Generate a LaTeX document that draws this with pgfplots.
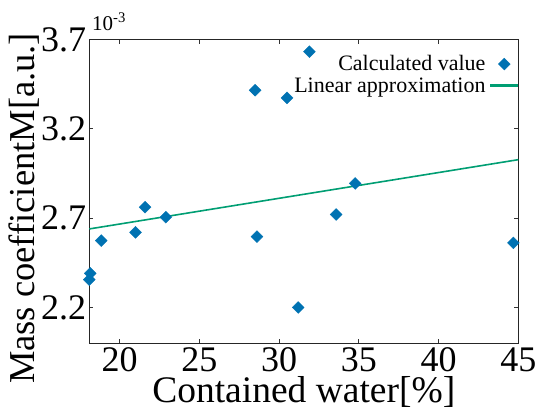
\documentclass[border=0pt]{standalone}
\usepackage{fontspec}
\setmainfont{Liberation Serif}
\usepackage{pgfplots}
\pgfplotsset{compat=1.18}
\definecolor{cvblue}{HTML}{0072B2}
\definecolor{cvgreen}{HTML}{009E73}
\pgfplotsset{
  marklegend/.style={legend image code/.code={%
    \draw[mark repeat=2,mark phase=2,##1] plot coordinates {(0bp,0bp) (13bp,0bp) (26bp,0bp)};}},
  linelegend/.style={legend image code/.code={%
    \fill[cvgreen] (0bp,-0.9bp) rectangle (26bp,0.9bp);}},
}

\begin{document}
\begin{tikzpicture}
\useasboundingbox (-89.3bp,-63.8bp) rectangle (452.7bp,343.2bp);
\begin{axis}[
  scale only axis, width=429bp, height=303.5bp,
  xmin=18.1, xmax=45, ymin=2.0, ymax=3.7,
  xtick={20,25,30,35,40,45}, xticklabels={20,25,30,35,40,45},
  ytick={2.2,2.7,3.2,3.7}, yticklabels={2.2,2.7,3.2,3.7},
  tick align=inside, major tick length=4bp,
  tick style={black!80, line width=1bp},
  axis line style={black!85, line width=1.2bp},
  every tick label/.append style={font=\fontsize{36bp}{36bp}\selectfont, inner sep=0pt},
  xticklabel style={yshift=-4bp},
  yticklabel style={xshift=-3bp},
  xlabel={Contained water[\%]},
  ylabel={Mass coefficientM[a.u.]},
  xlabel style={font=\fontsize{37.5bp}{37.5bp}\selectfont,
    at={(axis description cs:0.5,-0.197)}, anchor=base},
  ylabel style={font=\fontsize{36.5bp}{36.5bp}\selectfont,
    at={(axis description cs:-0.152,0.444)}, anchor=center},
  legend style={draw=none, fill=none, at={(axis description cs:1,0.948)},
    anchor=north east, font=\fontsize{22bp}{22bp}\selectfont,
    inner sep=0pt, column sep=5bp, row sep=5bp, nodes={inner sep=0pt}},
  legend cell align=right, legend plot pos=right,
  clip=false,
]
% measured mass coefficients (in units of 1e-3)
\addplot[only marks, mark=square*, mark size=4.2bp,
  mark options={rotate=45, fill=cvblue, draw=cvblue}, marklegend]
  coordinates {
  (18.16,2.391) (18.10,2.356) (18.85,2.575) (21.0,2.621) (21.6,2.762)
  (22.9,2.706) (28.61,2.597) (28.5,3.417) (30.5,3.374) (31.9,3.633)
  (33.58,2.721) (31.2,2.200) (34.77,2.895) (44.69,2.562)
  };
\addlegendentry{Calculated value}
% least-squares line
\addplot[cvgreen, line width=1.6bp, no marks, linelegend]
  coordinates {(18.1,2.640) (45,3.028)};
\addlegendentry{Linear approximation}
\node[anchor=base west, font=\fontsize{21bp}{21bp}\selectfont, inner sep=0pt]
  at (rel axis cs:0,1) [xshift=2.7bp, yshift=9.5bp] {10\textsuperscript{-3}};
\end{axis}
\end{tikzpicture}
\end{document}
